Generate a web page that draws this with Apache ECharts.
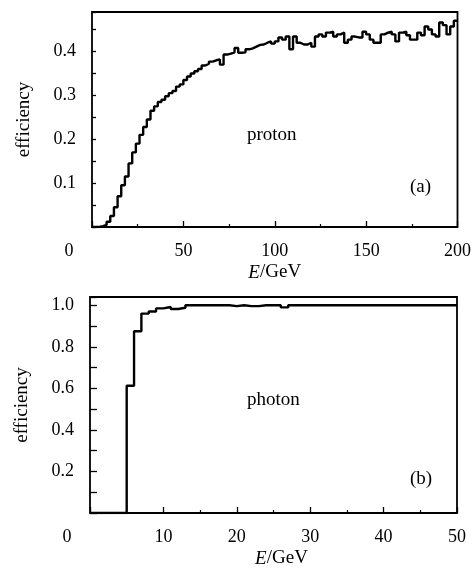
<!DOCTYPE html>
<html>
<head>
<meta charset="utf-8">
<script src="https://cdn.jsdelivr.net/npm/echarts@6/dist/echarts.min.js"></script>
<style>
  html, body { margin: 0; padding: 0; background: #fff; }
  #chartDiv { width: 474px; height: 575px; }
</style>
</head>
<body>
<div id="chartDiv"></div>
<script>
// (a) proton efficiency, 2 GeV bins from 0 to 200 GeV
var protonBinWidth = 2;
var protonEff = [
    0, 0, 0.002, 0.005, 0.012, 0.025, 0.045, 0.07, 0.095, 0.115,
    0.145, 0.17, 0.19, 0.21, 0.228, 0.245, 0.265, 0.275, 0.285, 0.29,
    0.298, 0.305, 0.31, 0.32, 0.325, 0.335, 0.343, 0.35, 0.355, 0.36,
    0.368, 0.372, 0.377, 0.38, 0.382, 0.37, 0.393, 0.395, 0.398, 0.408,
    0.397, 0.398, 0.405, 0.407, 0.411, 0.415, 0.416, 0.42, 0.423, 0.418,
    0.423, 0.432, 0.427, 0.434, 0.405, 0.434, 0.42, 0.416, 0.416, 0.42,
    0.411, 0.434, 0.439, 0.434, 0.443, 0.445, 0.434, 0.439, 0.443, 0.42,
    0.427, 0.434, 0.432, 0.432, 0.445, 0.439, 0.427, 0.42, 0.42, 0.439,
    0.443, 0.445, 0.439, 0.423, 0.443, 0.445, 0.437, 0.427, 0.427, 0.443,
    0.437, 0.457, 0.45, 0.439, 0.434, 0.466, 0.46, 0.439, 0.457, 0.47
];
// (b) photon efficiency, 1 GeV bins from 0 to 50 GeV
var photonBinWidth = 1;
var photonEff = [
    0, 0, 0, 0, 0, 0.613, 0.875, 0.96, 0.97, 0.985,
    0.992, 0.982, 0.988, 1.0, 1.0, 1.0, 1.0, 1.0, 1.0, 0.996,
    1.0, 0.996, 0.996, 1.0, 1.0, 1.0, 0.99, 1.0, 1.0, 1.0,
    1.0, 1.0, 1.0, 1.0, 1.0, 1.0, 1.0, 1.0, 1.0, 1.0,
    1.0, 1.0, 1.0, 1.0, 1.0, 1.0, 1.0, 1.0, 1.0, 1.0
];
var protonYLabels = [0.1, 0.2, 0.3, 0.4];
var photonYLabels = [0.2, 0.4, 0.6, 0.8, 1.0];

var font = 'Liberation Serif';
var myChart = echarts.init(document.getElementById('chartDiv'));

// histogram bins -> step line points (left edges + closing edge)
function toSteps(vals, w) {
    var pts = [];
    for (var i = 0; i < vals.length; i++) {
        pts.push([i * w, vals[i]]);
    }
    pts.push([vals.length * w, vals[vals.length - 1]]);
    return pts;
}

function yFormatter(list, digits) {
    return function (v) {
        for (var i = 0; i < list.length; i++) {
            if (Math.abs(v - list[i]) < 1e-6) return v.toFixed(digits);
        }
        return '';
    };
}

function xFormatter(v) {
    if (v === 0) return '{z|0}';
    return String(v);
}

function xAxis(gridIndex, max, interval, namePad) {
    return {
        type: 'value', gridIndex: gridIndex, min: 0, max: max, interval: interval,
        name: '{i|E}/GeV', nameLocation: 'middle', nameGap: 36,
        nameTextStyle: {
            color: '#000', fontFamily: font, fontSize: 19, padding: [0, 0, 0, namePad],
            rich: {i: {fontStyle: 'italic', fontFamily: font, fontSize: 19, color: '#000'}}
        },
        axisLine: {show: false},
        axisTick: {inside: true, length: 6, lineStyle: {color: '#000', width: 1.3}},
        minorTick: {show: true, splitNumber: 2, length: 3, lineStyle: {color: '#000', width: 1.2}},
        splitLine: {show: false},
        axisLabel: {
            color: '#000', fontFamily: font, fontSize: 18, margin: 15,
            formatter: xFormatter,
            rich: {z: {fontFamily: font, fontSize: 18, color: '#000', padding: [0, 46, 0, 0]}}
        }
    };
}

function yAxis(gridIndex, max, interval, labels, tickLen) {
    return {
        type: 'value', gridIndex: gridIndex, min: 0, max: max, interval: interval,
        name: 'efficiency', nameLocation: 'middle', nameGap: 58, nameRotate: 90,
        nameTextStyle: {color: '#000', fontFamily: font, fontSize: 19},
        axisLine: {show: false},
        axisTick: {inside: true, length: tickLen, lineStyle: {color: '#000', width: 1.3}},
        splitLine: {show: false},
        axisLabel: {
            color: '#000', fontFamily: font, fontSize: 18, margin: 16,
            formatter: yFormatter(labels, 1)
        }
    };
}

var option = {
    backgroundColor: '#fff',
    animation: false,
    grid: [
        {left: 92, top: 12, width: 368, height: 215, show: true, borderColor: '#000', borderWidth: 1.8, backgroundColor: 'transparent'},
        {left: 90, top: 297, width: 367, height: 216, show: true, borderColor: '#000', borderWidth: 1.8, backgroundColor: 'transparent'}
    ],
    xAxis: [
        xAxis(0, 200, 50, 0),
        xAxis(1, 50, 10, 16)
    ],
    yAxis: [
        yAxis(0, 0.49, 0.05, protonYLabels, 4),
        yAxis(1, 1.04, 0.1, photonYLabels, 7)
    ],
    graphic: [
        {type: 'text', left: 247, top: 126, style: {text: 'proton', fill: '#000', font: '19px "Liberation Serif"'}},
        {type: 'text', left: 410, top: 178, style: {text: '(a)', fill: '#000', font: '19px "Liberation Serif"'}},
        {type: 'text', left: 247, top: 391, style: {text: 'photon', fill: '#000', font: '19px "Liberation Serif"'}},
        {type: 'text', left: 410, top: 470, style: {text: '(b)', fill: '#000', font: '19px "Liberation Serif"'}}
    ],
    series: [
        {
            type: 'line', xAxisIndex: 0, yAxisIndex: 0, step: 'end', symbol: 'none',
            lineStyle: {color: '#000', width: 2.4},
            data: toSteps(protonEff, protonBinWidth)
        },
        {
            type: 'line', xAxisIndex: 1, yAxisIndex: 1, step: 'end', symbol: 'none',
            lineStyle: {color: '#000', width: 2.4},
            data: toSteps(photonEff, photonBinWidth)
        }
    ]
};
myChart.setOption(option);
window.onresize = myChart.resize;
</script>
</body>
</html>
